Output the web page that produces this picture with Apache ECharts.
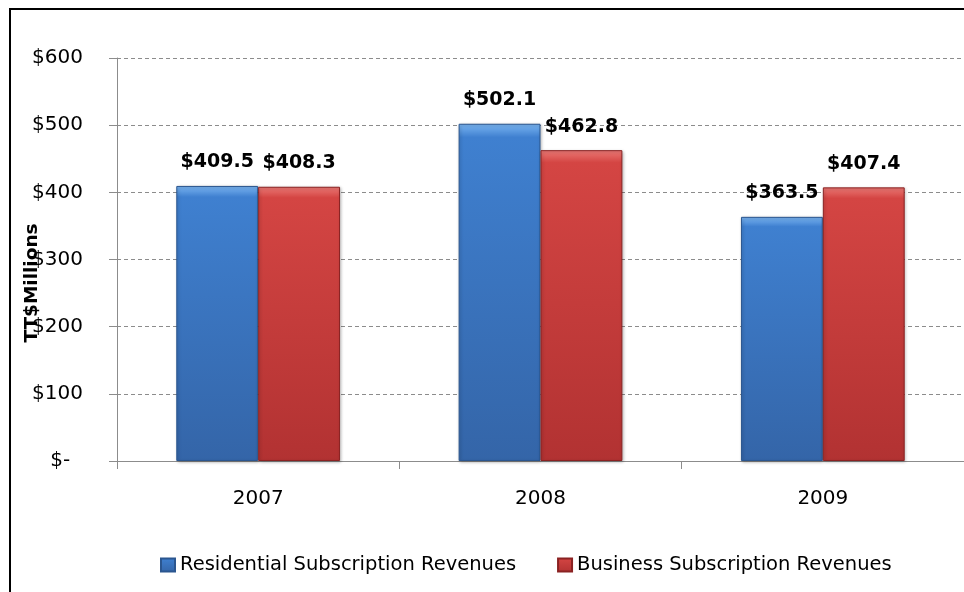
<!DOCTYPE html>
<html>
<head>
<meta charset="utf-8">
<script src="https://cdn.jsdelivr.net/npm/echarts@6/dist/echarts.min.js"></script>
<style>
  html, body { margin: 0; padding: 0; background: #fff; }
  #chart { width: 964px; height: 592px; }
</style>
</head>
<body>
<div id="chart"></div>
<script>
// Subscription revenues by year, TT$ millions
const years = ['2007', '2008', '2009'];
const residential = [409.5, 502.1, 363.5];
const business = [408.3, 462.8, 407.4];
const seriesNames = ['Residential Subscription Revenues', 'Business Subscription Revenues'];
const yTicks = [0, 100, 200, 300, 400, 500, 600];

const FONT = '"DejaVu Sans", "Noto Sans", sans-serif';

function barFill(top, mid, bottom) {
  return new echarts.graphic.LinearGradient(0, 0, 0, 1, [
    { offset: 0, color: top },
    { offset: 0.04, color: mid },
    { offset: 1, color: bottom }
  ]);
}

const blueStyle = {
  color: barFill('#7bb6f2', '#3f80d0', '#3465a8'),
  borderColor: '#2b568f',
  borderWidth: 1,
  shadowColor: 'rgba(0,0,0,0.25)',
  shadowBlur: 3,
  shadowOffsetX: 1,
  shadowOffsetY: 1
};
const redStyle = {
  color: barFill('#ec7a76', '#d44543', '#b23232'),
  borderColor: '#8a2222',
  borderWidth: 1,
  shadowColor: 'rgba(0,0,0,0.25)',
  shadowBlur: 3,
  shadowOffsetX: 1,
  shadowOffsetY: 1
};

const valueLabel = {
  show: true,
  position: 'top',
  distance: 14,
  formatter: p => '$' + p.value.toFixed(1),
  fontFamily: FONT,
  fontWeight: 'bold',
  fontSize: 19,
  color: '#000'
};

const chart = echarts.init(document.getElementById('chart'), null, { renderer: 'canvas' });
chart.setOption({
  animation: false,
  backgroundColor: '#fff',
  grid: { left: 117, right: 0, top: 58, bottom: 131, containLabel: false },
  legend: {
    left: 160,
    top: 555,
    padding: 0,
    itemWidth: 14,
    itemHeight: 13,
    itemGap: 41,
    icon: 'rect',
    textStyle: { fontFamily: FONT, fontSize: 19.5, color: '#000' },
    data: seriesNames
  },
  xAxis: {
    type: 'category',
    data: years,
    axisLine: { lineStyle: { color: '#8c8c8c', width: 1 } },
    axisTick: { show: true, length: 8, lineStyle: { color: '#8c8c8c' } },
    axisLabel: { margin: 28, fontFamily: FONT, fontSize: 20, color: '#000' }
  },
  yAxis: {
    type: 'value',
    min: 0,
    max: 600,
    interval: 100,
    axisLine: { show: true, lineStyle: { color: '#8c8c8c', width: 1 } },
    axisTick: { show: true, length: 8, lineStyle: { color: '#8c8c8c' } },
    splitLine: { show: true, lineStyle: { color: '#8c8c8c', type: [4, 3], width: 1 } },
    axisLabel: {
      margin: 34,
      fontFamily: FONT,
      fontSize: 20,
      color: '#000',
      formatter: v => (yTicks.includes(v) ? (v === 0 ? '$-  ' : '$' + v) : '')
    }
  },
  graphic: [
    {
      type: 'rect',
      shape: { x: 10, y: 9, width: 1000, height: 1000 },
      style: { fill: 'none', stroke: '#000', lineWidth: 2 },
      silent: true
    },
    {
      type: 'text',
      x: 32,
      y: 283,
      rotation: Math.PI / 2,
      style: {
        text: 'TT$Millions',
        fontFamily: FONT,
        fontWeight: 'bold',
        fontSize: 18.5,
        fill: '#000',
        textAlign: 'center',
        textVerticalAlign: 'middle'
      },
      z: 10
    }
  ],
  series: [
    {
      name: seriesNames[0],
      type: 'bar',
      data: residential,
      barGap: '0%',
      barCategoryGap: '42%',
      itemStyle: blueStyle,
      label: valueLabel
    },
    {
      name: seriesNames[1],
      type: 'bar',
      data: business,
      barGap: '0%',
      barCategoryGap: '42%',
      itemStyle: redStyle,
      label: valueLabel
    }
  ]
});
</script>
</body>
</html>
